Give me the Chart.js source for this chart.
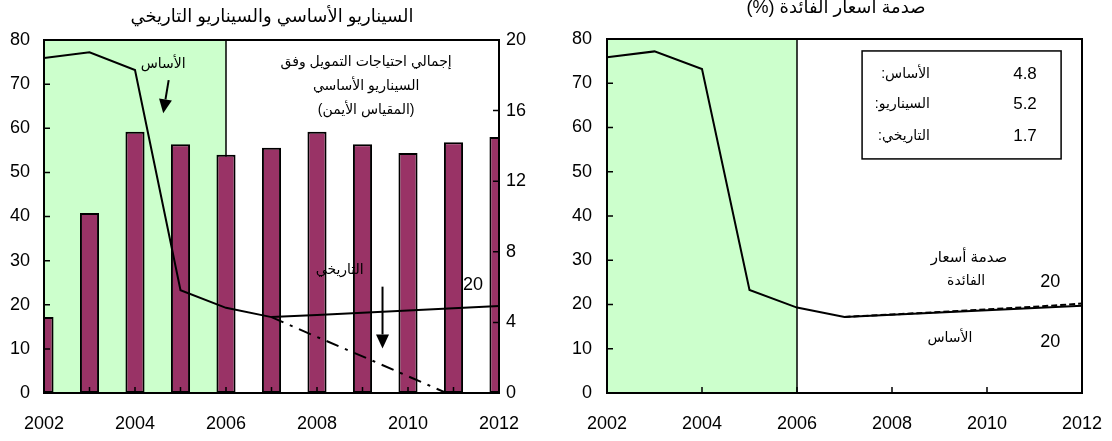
<!DOCTYPE html>
<html lang="ar">
<head>
<meta charset="utf-8">
<script src="https://cdn.jsdelivr.net/npm/chart.js@4.4.1/dist/chart.umd.min.js"></script>
<style>
  html, body { margin: 0; padding: 0; background: #fff; }
  #wrap { position: relative; width: 1112px; height: 441px; }
  canvas { position: absolute; top: 0; }
</style>
</head>
<body>
<div id="wrap">
  <canvas id="scenarioChart" width="556" height="441" style="left:0"></canvas>
  <canvas id="shockChart" width="556" height="441" style="left:556px"></canvas>
</div>
<script>
const years = ['2002', '2003', '2004', '2005', '2006', '2007', '2008', '2009', '2010', '2011', '2012'];

// total financing needs, baseline scenario (right scale)
const financingNeeds = [4.3, 10.2, 14.8, 14.1, 13.5, 13.9, 14.8, 14.1, 13.6, 14.2, 14.5];
// debt paths (left scale, %)
const baseline = [75.9, 77.2, 73.2, 23.3, 19.3, 17.2, 17.7, 18.2, 18.7, 19.2, 19.7];
const historical = [null, null, null, null, null, 17.2, 12.7, 8.3, 3.8, -0.7, null];
const rateShock = [null, null, null, null, null, 17.2, 17.75, 18.3, 18.9, 19.5, 20.2];

const shockTable = [
    { label: 'الأساس:', value: '4.8' },
    { label: 'السيناريو:', value: '5.2' },
    { label: 'التاريخي:', value: '1.7' }
];

const FONT = 'Arial, "Liberation Sans", "DejaVu Sans", sans-serif';
Chart.defaults.font.family = FONT;
Chart.defaults.font.size = 18;
Chart.defaults.color = '#000';

const px = (chart, yr) => chart.scales.x.getPixelForValue(yr - 2002);
const py = (chart, v, axis = 'y') => chart.scales[axis].getPixelForValue(v);

// green shaded zone + 2006 divider
const shadePlugin = {
    id: 'shade',
    beforeDatasetsDraw(chart) {
        const { ctx, chartArea: a } = chart;
        const x0 = px(chart, 2002), x1 = px(chart, 2006);
        ctx.save();
        ctx.fillStyle = '#ccffcc';
        ctx.fillRect(x0, a.top, x1 - x0, a.bottom - a.top);
        ctx.strokeStyle = '#000';
        ctx.lineWidth = 1.5;
        ctx.beginPath();
        ctx.moveTo(x1, a.top);
        ctx.lineTo(x1, a.bottom);
        ctx.stroke();
        ctx.restore();
    }
};

// plot frame with inward tick marks
const framePlugin = {
    id: 'frame',
    afterDatasetsDraw(chart, args, opts) {
        const { ctx, chartArea: a } = chart;
        ctx.save();
        ctx.strokeStyle = '#000';
        ctx.lineWidth = 1.5;
        ctx.beginPath();
        for (let i = 0; i < years.length; i += opts.xStep) {
            const x = chart.scales.x.getPixelForValue(i);
            ctx.moveTo(x, a.bottom);
            ctx.lineTo(x, a.bottom - 6);
        }
        chart.scales.y.ticks.forEach(t => {
            const y = py(chart, t.value);
            ctx.moveTo(a.left, y);
            ctx.lineTo(a.left + 6, y);
        });
        if (chart.scales.y1) {
            chart.scales.y1.ticks.forEach(t => {
                const y = py(chart, t.value, 'y1');
                ctx.moveTo(a.right, y);
                ctx.lineTo(a.right - 6, y);
            });
        }
        ctx.stroke();
        ctx.lineWidth = 2;
        ctx.strokeRect(a.left, a.top, a.right - a.left, a.bottom - a.top);
        ctx.restore();
    }
};

function arrow(ctx, x0, y0, x1, y1) {
    const ang = Math.atan2(y1 - y0, x1 - x0);
    const len = 14, half = 6.5;
    const bx = x1 - len * Math.cos(ang), by = y1 - len * Math.sin(ang);
    ctx.beginPath();
    ctx.moveTo(x0, y0);
    ctx.lineTo(bx, by);
    ctx.lineWidth = 2;
    ctx.stroke();
    ctx.beginPath();
    ctx.moveTo(x1, y1);
    ctx.lineTo(bx + half * Math.sin(ang), by - half * Math.cos(ang));
    ctx.lineTo(bx - half * Math.sin(ang), by + half * Math.cos(ang));
    ctx.closePath();
    ctx.fill();
}

function text(ctx, str, x, y, size, align = 'center') {
    ctx.font = size + 'px ' + FONT;
    ctx.textAlign = align;
    ctx.textBaseline = 'middle';
    ctx.direction = 'rtl';
    ctx.fillText(str, x, y);
}

const scenarioNotes = {
    id: 'scenarioNotes',
    afterDraw(chart) {
        const { ctx } = chart;
        ctx.save();
        ctx.fillStyle = '#000';
        ctx.strokeStyle = '#000';
        text(ctx, 'السيناريو الأساسي والسيناريو التاريخي', 272, 17, 18);
        text(ctx, 'الأساس', px(chart, 2004.62), py(chart, 74.6), 14);
        arrow(ctx, px(chart, 2004.74), py(chart, 70.9), px(chart, 2004.62), py(chart, 63.4));
        text(ctx, 'إجمالي احتياجات التمويل وفق', px(chart, 2009.08), py(chart, 75.0), 14);
        text(ctx, 'السيناريو الأساسي', px(chart, 2009.08), py(chart, 69.5), 14);
        text(ctx, '(المقياس الأيمن)', px(chart, 2009.08), py(chart, 64.1), 14);
        text(ctx, 'التاريخي', px(chart, 2008.5), py(chart, 27.9), 14);
        arrow(ctx, px(chart, 2009.44), py(chart, 24.1), px(chart, 2009.44), py(chart, 10.1));
        text(ctx, '20', px(chart, 2011.43), py(chart, 24.5), 18);
        ctx.restore();
    }
};

const shockNotes = {
    id: 'shockNotes',
    afterDraw(chart) {
        const { ctx } = chart;
        ctx.save();
        ctx.fillStyle = '#000';
        ctx.strokeStyle = '#000';
        text(ctx, 'صدمة أسعار الفائدة (%)', 280, 8, 18);
        // inset table
        const bx0 = px(chart, 2007.37), bx1 = px(chart, 2011.56);
        const by0 = py(chart, 77.3), by1 = py(chart, 52.9);
        ctx.fillStyle = '#fff';
        ctx.fillRect(bx0, by0, bx1 - bx0, by1 - by0);
        ctx.lineWidth = 1.5;
        ctx.strokeRect(bx0, by0, bx1 - bx0, by1 - by0);
        ctx.fillStyle = '#000';
        const rows = [72.1, 65.3, 58.1];
        shockTable.forEach((r, i) => {
            text(ctx, r.label, px(chart, 2008.8), py(chart, rows[i]), 14, 'right');
            text(ctx, r.value, px(chart, 2010.8), py(chart, rows[i]), 17);
        });
        text(ctx, 'صدمة أسعار', px(chart, 2009.62), py(chart, 30.5), 15);
        text(ctx, 'الفائدة', px(chart, 2009.56), py(chart, 25.3), 14);
        text(ctx, '20', px(chart, 2011.33), py(chart, 25.1), 18);
        text(ctx, 'الأساس', px(chart, 2009.22), py(chart, 12.4), 14);
        text(ctx, '20', px(chart, 2011.33), py(chart, 11.5), 18);
        ctx.restore();
    }
};

const xAxis = {
    offset: false,
    grid: { display: false, drawTicks: false },
    border: { display: false },
    ticks: {
        autoSkip: false,
        maxRotation: 0,
        padding: 20,
        callback(v, i) { return i % 2 === 0 ? this.getLabelForValue(v) : ''; }
    },
    afterFit(s) {
        s.height = 48;
        s.paddingLeft = 0;
        s.paddingRight = 0;
    }
};

new Chart(document.getElementById('scenarioChart'), {
    type: 'bar',
    data: {
        labels: years,
        datasets: [{
            type: 'line',
            label: 'الأساس',
            data: baseline,
            yAxisID: 'y',
            borderColor: '#000',
            borderWidth: 2,
            pointRadius: 0,
            tension: 0,
            order: 0,
            clip: 0
        }, {
            type: 'line',
            label: 'التاريخي',
            data: historical,
            yAxisID: 'y',
            borderColor: '#000',
            borderWidth: 2,
            borderDash: [13, 7, 3, 7],
            pointRadius: 0,
            order: 0,
            clip: 0
        }, {
            label: 'إجمالي احتياجات التمويل',
            data: financingNeeds,
            yAxisID: 'y1',
            backgroundColor: '#993366',
            borderColor: '#000',
            borderWidth: 2,
            borderSkipped: false,
            categoryPercentage: 1,
            barPercentage: 0.42,
            order: 1,
            clip: 0
        }]
    },
    options: {
        responsive: false,
        animation: false,
        layout: { padding: { top: 40, left: 0, right: 0, bottom: 0 } },
        plugins: {
            legend: { display: false },
            tooltip: { enabled: false },
            frame: { xStep: 1 }
        },
        scales: {
            x: xAxis,
            y: {
                position: 'left',
                min: 0,
                max: 80,
                ticks: { stepSize: 10, padding: 14 },
                grid: { display: false, drawTicks: false },
                border: { display: false },
                afterFit(s) { s.width = 44; }
            },
            y1: {
                position: 'right',
                min: 0,
                max: 20,
                ticks: { stepSize: 4, padding: 7 },
                grid: { display: false, drawTicks: false },
                border: { display: false },
                afterFit(s) { s.width = 57; }
            }
        }
    },
    plugins: [shadePlugin, framePlugin, scenarioNotes]
});

new Chart(document.getElementById('shockChart'), {
    type: 'line',
    data: {
        labels: years,
        datasets: [{
            label: 'الأساس',
            data: baseline,
            borderColor: '#000',
            borderWidth: 2,
            pointRadius: 0,
            order: 0,
            clip: 0
        }, {
            label: 'صدمة أسعار الفائدة',
            data: rateShock,
            borderColor: '#000',
            borderWidth: 2,
            borderDash: [6, 3],
            pointRadius: 0,
            order: 1,
            clip: 0
        }]
    },
    options: {
        responsive: false,
        animation: false,
        layout: { padding: { top: 39, left: 0, right: 30, bottom: 0 } },
        plugins: {
            legend: { display: false },
            tooltip: { enabled: false },
            frame: { xStep: 2 }
        },
        scales: {
            x: xAxis,
            y: {
                position: 'left',
                min: 0,
                max: 80,
                ticks: { stepSize: 10, padding: 15 },
                grid: { display: false, drawTicks: false },
                border: { display: false },
                afterFit(s) { s.width = 51; }
            }
        }
    },
    plugins: [shadePlugin, framePlugin, shockNotes]
});
</script>
</body>
</html>
